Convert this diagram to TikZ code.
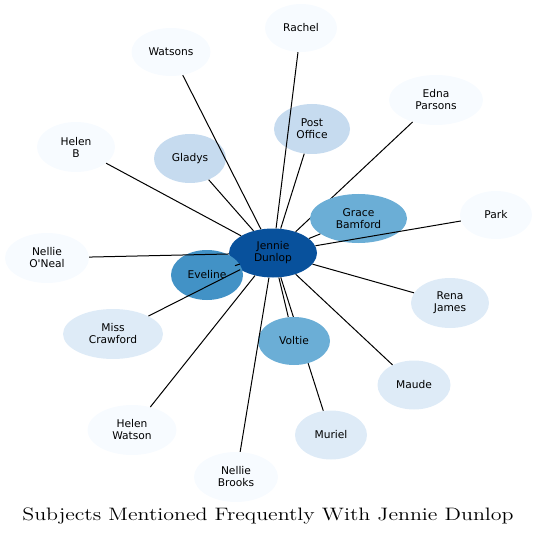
\documentclass[tikz,border=0pt]{standalone}
\usepackage{fontspec}
\newfontfamily\dvs{DejaVu Sans}
\usetikzlibrary{shapes.geometric}
\definecolor{cJ}{HTML}{08519C}
\definecolor{cE}{HTML}{4292C6}
\definecolor{cG}{HTML}{6BAED6}
\definecolor{cP}{HTML}{C6DBEF}
\definecolor{cM}{HTML}{DEEBF7}
\definecolor{cL}{HTML}{F7FBFF}
\tikzset{
  ell/.style={ellipse, draw=none, inner sep=0pt, align=center, text=black,
    font=\dvs\fontsize{8}{9}\selectfont},
  rr/.style 2 args={minimum width=#1*1.5pt, minimum height=#2*1.5pt},
  link/.style={draw=black, line width=0.75pt}
}
\begin{document}
\begin{tikzpicture}[x=0.75pt,y=-0.75pt]
\useasboundingbox (0,0) rectangle (537,538);
% nodes (except those drawn above hidden edges)
\node[ell, fill=cJ, rr={44}{24.5}] (J) at (273,253) {Jennie\\Dunlop};
\node[ell, fill=cL, rr={36}{24}] (rachel) at (301,28) {Rachel};
\node[ell, fill=cL, rr={39.5}{24}] (watsons) at (171,52) {Watsons};
\node[ell, fill=cL, rr={47}{25}] (edna) at (436,100) {Edna\\Parsons};
\node[ell, fill=cP, rr={38}{25}] (post) at (312,129) {Post\\Office};
\node[ell, fill=cL, rr={39}{25}] (helenb) at (76,147) {Helen\\B};
\node[ell, fill=cP, rr={36}{24.5}] (gladys) at (190,158.5) {Gladys};
\node[ell, fill=cL, rr={36}{24}] (park) at (496,215) {Park};
\node[ell, fill=cL, rr={42}{25}] (oneal) at (47,258) {Nellie\\O'Neal};
\node[ell, fill=cE, rr={36}{25}] (eveline) at (207,275) {Eveline};
\node[ell, fill=cM, rr={39}{25}] (rena) at (450,303) {Rena\\James};
\node[ell, fill=cM, rr={50}{25}] (crawford) at (113,334) {Miss\\Crawford};
\node[ell, fill=cM, rr={36.5}{24.5}] (maude) at (414,385) {Maude};
\node[ell, fill=cL, rr={44.5}{25}] (hwatson) at (132,430) {Helen\\Watson};
\node[ell, fill=cM, rr={36}{24.5}] (muriel) at (331,435) {Muriel};
\node[ell, fill=cL, rr={42}{25}] (brooks) at (236,477) {Nellie\\Brooks};
% edges hidden under later nodes
\draw[link] (J) -- (edna);
\draw[link] (J) -- (muriel);
\node[ell, fill=cG, rr={48.5}{24.5}] (grace) at (358.5,218.5) {Grace\\Bamford};
\node[ell, fill=cG, rr={36}{24}] (voltie) at (294,341) {Voltie};
% remaining edges
\draw[link] (J) -- (rachel);
\draw[link] (J) -- (watsons);
\draw[link] (J) -- (post);
\draw[link] (J) -- (helenb);
\draw[link] (J) -- (gladys);
\draw[link] (J) -- (grace);
\draw[link] (J) -- (park);
\draw[link] (J) -- (oneal);
\draw[link] (J) -- (eveline);
\draw[link] (J) -- (rena);
\draw[link] (J) -- (crawford);
\draw[link] (J) -- (voltie);
\draw[link] (J) -- (maude);
\draw[link] (J) -- (hwatson);
\draw[link] (J) -- (brooks);
% title
\node[font=\fontsize{13.5}{16}\selectfont, inner sep=0pt] (title) at (268,516) {\scalebox{1.22}[1]{Subjects Mentioned Frequently With Jennie Dunlop}};
\end{tikzpicture}
\end{document}
